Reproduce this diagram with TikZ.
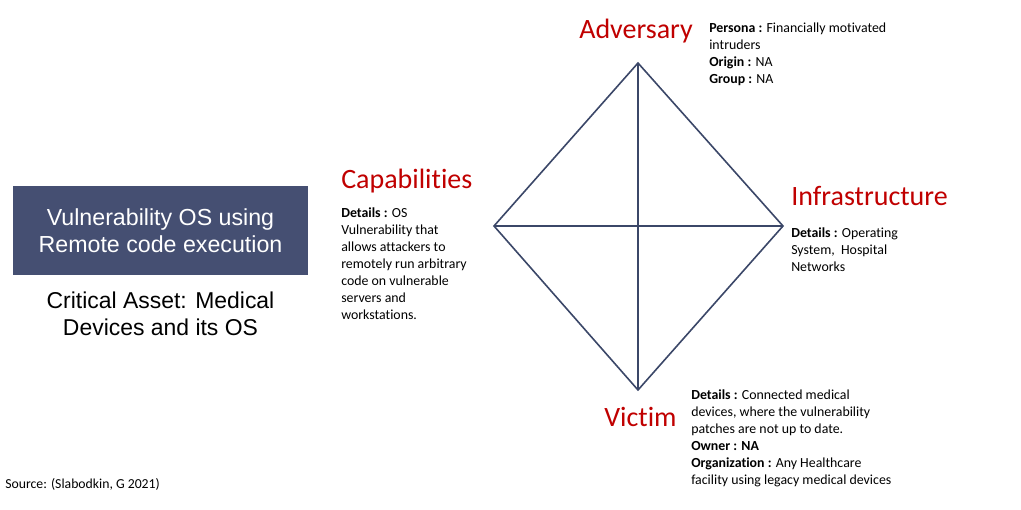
\documentclass[tikz,border=0pt]{standalone}
\usepackage{fontspec}
\setmainfont{Carlito}[Ligatures=CommonOff]
\newfontfamily\arial{Liberation Sans}
\definecolor{navy}{HTML}{3B4768}
\definecolor{boxfill}{HTML}{454F72}
\definecolor{labelred}{HTML}{C00000}
\begin{document}
\begin{tikzpicture}[x=0.75pt,y=-0.75pt,
  vertexlabel/.style={text=labelred,font=\fontsize{21}{25}\selectfont,inner sep=0pt},
  detail/.style={anchor=north west,align=left,inner sep=0pt,font=\fontsize{10.4}{12.75}\selectfont},
  edge/.style={draw=navy,line width=1.2pt},
  axis/.style={draw=navy,line width=0.8pt}]
\useasboundingbox (0,0) rectangle (1021,510);

% diamond corners
\coordinate (adv) at (638,63);
\coordinate (cap) at (494,226);
\coordinate (inf) at (783,226);
\coordinate (vic) at (638,390);

\draw[axis] (adv) -- (vic);
\draw[axis] (cap) -- (inf);
\draw[edge,line join=miter] (adv) -- (inf) -- (vic) -- (cap) -- cycle;

% vertex titles
\node[vertexlabel] (advlabel) at (636,31) {Adversary};
\node[vertexlabel,anchor=west] (caplabel) at (341,181) {Capabilities};
\node[vertexlabel,anchor=west] (inflabel) at (791,196) {Infrastructure};
\node[vertexlabel,anchor=west] (viclabel) at (604,417) {Victim};

% vertex details
\node[detail] (advtext) at (709,23) {\textbf{Persona :} Financially motivated\\intruders\\\textbf{Origin :} NA\\\textbf{Group :} NA};
\node[detail] (captext) at (341,208) {\textbf{Details :} OS\\Vulnerability that\\allows attackers to\\remotely run arbitrary\\code on vulnerable\\servers and\\workstations.};
\node[detail] (inftext) at (791,228) {\textbf{Details :} Operating\\System,\ \ Hospital\\Networks};
\node[detail] (victext) at (691,389) {\textbf{Details :} Connected medical\\devices, where the vulnerability\\patches are not up to date.\\\textbf{Owner : NA}\\\textbf{Organization :} Any Healthcare\\facility using legacy medical devices};

% event box and asset note
\node[fill=boxfill,text=white,minimum width=295*0.75pt,minimum height=89*0.75pt,inner sep=0pt,align=center,
  font=\arial\fontsize{17.4}{20.3}\selectfont] (event) at (160.5,230.5) {Vulnerability OS using\\Remote code execution};
\node[align=center,inner sep=0pt,font=\arial\fontsize{17.2}{20.3}\selectfont] (asset) at (160.5,313.5) {Critical Asset: Medical\\Devices and its OS};

\node[anchor=west,inner sep=0pt,font=\fontsize{10.3}{12}\selectfont] (source) at (5,484) {Source: (Slabodkin, G 2021)};
\end{tikzpicture}
\end{document}
